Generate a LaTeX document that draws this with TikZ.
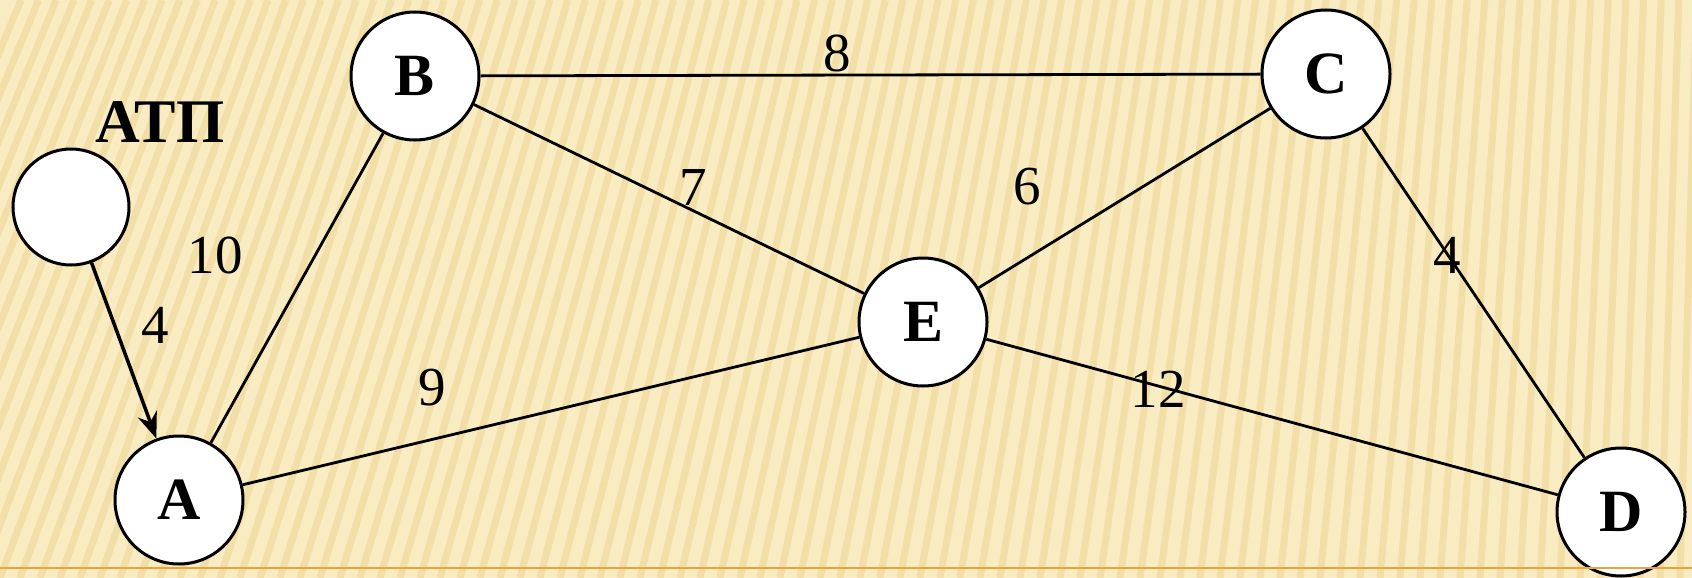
\documentclass[tikz,border=0pt]{standalone}
\usepackage{fontspec}
\setmainfont{Liberation Serif}
\usetikzlibrary{arrows.meta}
\definecolor{bgbase}{HTML}{F9EBC2}
\definecolor{bgstripe}{HTML}{EFDA9C}
\definecolor{rulecol}{HTML}{F0A23A}
\begin{document}
\begin{tikzpicture}[x=1pt,y=-1pt,
  vertex/.style={circle,draw=black,line width=3pt,fill=white,minimum size=128pt,inner sep=0pt,font=\fontsize{60}{64}\selectfont\bfseries},
  wlabel/.style={font=\fontsize{55}{60}\selectfont,inner sep=0pt},
  edge/.style={line width=2.8pt,black}]
\useasboundingbox (0,0) rectangle (1692,578);
\fill[bgbase] (0,0) rectangle (1692,578);
\begin{scope}
\clip (0,0) rectangle (1692,578);
\foreach \x in {-220,-200,...,1720} {
  \pgfmathsetmacro\s{200*(1-\x/1692)+15}
  \draw[bgstripe,line width=7pt,opacity=0.7] (\x,578) -- (\x+\s,0);
}
\end{scope}
% nodes
\node[vertex] (A) at (179,500) {A};
\node[vertex] (B) at (415,76) {B};
\node[vertex] (C) at (1326,74) {C};
\node[vertex] (D) at (1621,512) {D};
\node[vertex] (E) at (923,322) {E};
\node[vertex,minimum size=116pt] (P) at (71,207) {};
\node[font=\fontsize{62}{66}\selectfont\bfseries,inner sep=0pt] (Plab) at (160,122) {АТП};
% edges
\draw[edge] (B) -- (C);
\draw[edge] (B) -- (A);
\draw[edge] (B) -- (E);
\draw[edge] (C) -- (E);
\draw[edge] (C) -- (D);
\draw[edge] (A) -- (E);
\draw[edge] (E) -- (D);
\draw[line width=3.5pt,-{Stealth[length=26pt,width=20pt]}] (P) -- (A);
% weights
\node[wlabel] (w8) at (837,53) {8};
\node[wlabel] (w7) at (693,187) {7};
\node[wlabel] (w6) at (1027,187) {6};
\node[wlabel] (w4b) at (1447,255) {4};
\node[wlabel] (w12) at (1158,389) {12};
\node[wlabel] (w9) at (432,388) {9};
\node[wlabel] (w10) at (215,255) {10};
\node[wlabel] (w4a) at (155,325) {4};
% bottom rule
\draw[rulecol,line width=2pt] (0,568) -- (1692,568);
\end{tikzpicture}
\end{document}
